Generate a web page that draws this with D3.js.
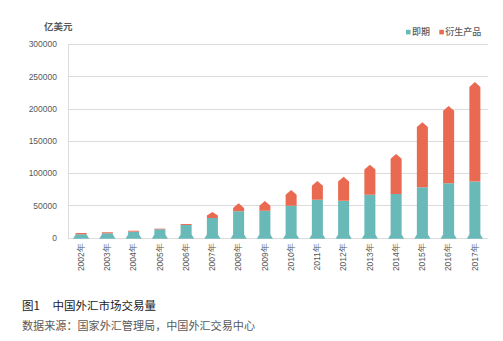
<!DOCTYPE html>
<html>
<head>
<meta charset="utf-8">
<script src="https://cdn.jsdelivr.net/npm/d3@7"></script>
<style>
  html, body { margin: 0; padding: 0; background: #fff; }
  svg { display: block; }
</style>
</head>
<body>
<svg id="chart" width="503" height="341"></svg>
<script>
// China FX market turnover, 100 million USD
const years = ["2002年","2003年","2004年","2005年","2006年","2007年","2008年","2009年",
               "2010年","2011年","2012年","2013年","2014年","2015年","2016年","2017年"];
const spot  = [5300, 6800, 9300, 13000, 19700, 30500, 40900, 41800,
               49600, 58900, 57300, 66600, 67700, 78000, 84200, 87000];
const total = [7300, 8400, 10800, 14000, 21200, 39800, 53300, 56800,
               73900, 87800, 94500, 113100, 129600, 178700, 204000, 241000];
const yTicks = [0, 50000, 100000, 150000, 200000, 250000, 300000];
const seriesNames = ["即期", "衍生产品"];

const colors = { spot: "#6ab9b9", deriv: "#e96a51" };
const svg = d3.select("#chart");
const plot = { left: 68, right: 488, top: 44, bottom: 237.7 };

const x = d3.scaleBand().domain(years).range([plot.left, plot.right]).paddingInner(0.58).paddingOuter(0.29);
const y = d3.scaleLinear().domain([0, 300000]).range([plot.bottom, plot.top]);

// gridlines
svg.append("g").selectAll("line").data(yTicks).join("line")
  .attr("x1", plot.left).attr("x2", plot.right)
  .attr("y1", d => Math.round(y(d)) + 0.5).attr("y2", d => Math.round(y(d)) + 0.5)
  .attr("stroke", "#dcdcdc").attr("stroke-width", 1);
svg.append("line").attr("x1", plot.left + 0.5).attr("x2", plot.left + 0.5)
  .attr("y1", plot.top).attr("y2", plot.bottom + 1).attr("stroke", "#dcdcdc");

// y axis labels
const yAxis = d3.axisLeft(y).tickValues(yTicks).tickSize(0).tickPadding(11).tickFormat(d3.format("d"));
svg.append("g").attr("transform", `translate(${plot.left},0)`).call(yAxis)
  .call(g => g.select(".domain").remove())
  .call(g => g.selectAll("text").attr("font-family", "Liberation Sans, Arial, sans-serif")
    .attr("font-size", 8.5).attr("fill", "#595959"));

// x axis labels (rotated)
const xAxis = d3.axisBottom(x).tickSize(0).tickPadding(0);
svg.append("g").attr("transform", `translate(0,${plot.bottom})`).call(xAxis)
  .call(g => g.select(".domain").remove())
  .call(g => g.selectAll("text")
    .attr("font-family", "Liberation Sans, Arial, sans-serif").attr("font-size", 8.5).attr("fill", "#595959")
    .attr("transform", "rotate(-90)").attr("text-anchor", "end")
    .attr("x", -5.5).attr("y", 0).attr("dy", "0.33em"));

// bars: spot segment with a flared foot, derivatives segment with a pointed cap
const bw = x.bandwidth();
const flare = 2.6, footH = 4.2;
svg.append("g").selectAll("path").data(years).join("path")
  .attr("fill", colors.spot)
  .attr("d", (d, i) => {
    const x0 = x(d), x1 = x0 + bw, yt = y(spot[i]), yb = y(0) + 1;
    return `M${x0},${yt} L${x1},${yt} L${x1},${yb - footH} L${x1 + flare},${yb} ` +
           `L${x0 - flare},${yb} L${x0},${yb - footH} Z`;
  });
svg.append("g").selectAll("path").data(years).join("path")
  .attr("fill", colors.deriv)
  .attr("d", (d, i) => {
    const x0 = x(d), x1 = x0 + bw, yb = y(spot[i]), yp = y(total[i]);
    const h = yb - yp;
    const cap = h > 4 ? Math.min(4.8, h * 0.6) : 0;
    const ys = yp + cap;
    return `M${x0},${yb} L${x0},${ys} L${x0 + bw / 2},${yp} L${x1},${ys} L${x1},${yb} Z`;
  });

// axis title
svg.append("text").attr("x", 44).attr("y", 29.5)
  .attr("font-family", "Noto Sans CJK SC").attr("font-size", 9.5).attr("font-weight", "bold")
  .attr("fill", "#595959").text("亿美元");

// legend
const legend = svg.append("g").attr("font-family", "Noto Sans CJK SC").attr("font-size", 9)
  .attr("font-weight", 500).attr("fill", "#595959");
const legendX = [406, 439.3];
[colors.spot, colors.deriv].forEach((c, i) => {
  legend.append("rect").attr("x", legendX[i]).attr("y", 29.8).attr("width", 4.6).attr("height", 4.6).attr("fill", c);
  legend.append("text").attr("x", legendX[i] + 6).attr("y", 35.3).text(seriesNames[i]);
});

// caption
svg.append("text").attr("x", 22).attr("y", 309.5)
  .attr("font-family", "Noto Sans CJK SC").attr("font-size", 11.5).attr("fill", "#1a1a1a")
  .text("图1");
svg.append("text").attr("x", 52.5).attr("y", 309.5)
  .attr("font-family", "Noto Sans CJK SC").attr("font-size", 11.5).attr("fill", "#1a1a1a")
  .text("中国外汇市场交易量");
svg.append("text").attr("x", 22).attr("y", 329.5)
  .attr("font-family", "Noto Sans CJK SC").attr("font-size", 11.1).attr("fill", "#595959")
  .text("数据来源：国家外汇管理局，中国外汇交易中心");
</script>
</body>
</html>
